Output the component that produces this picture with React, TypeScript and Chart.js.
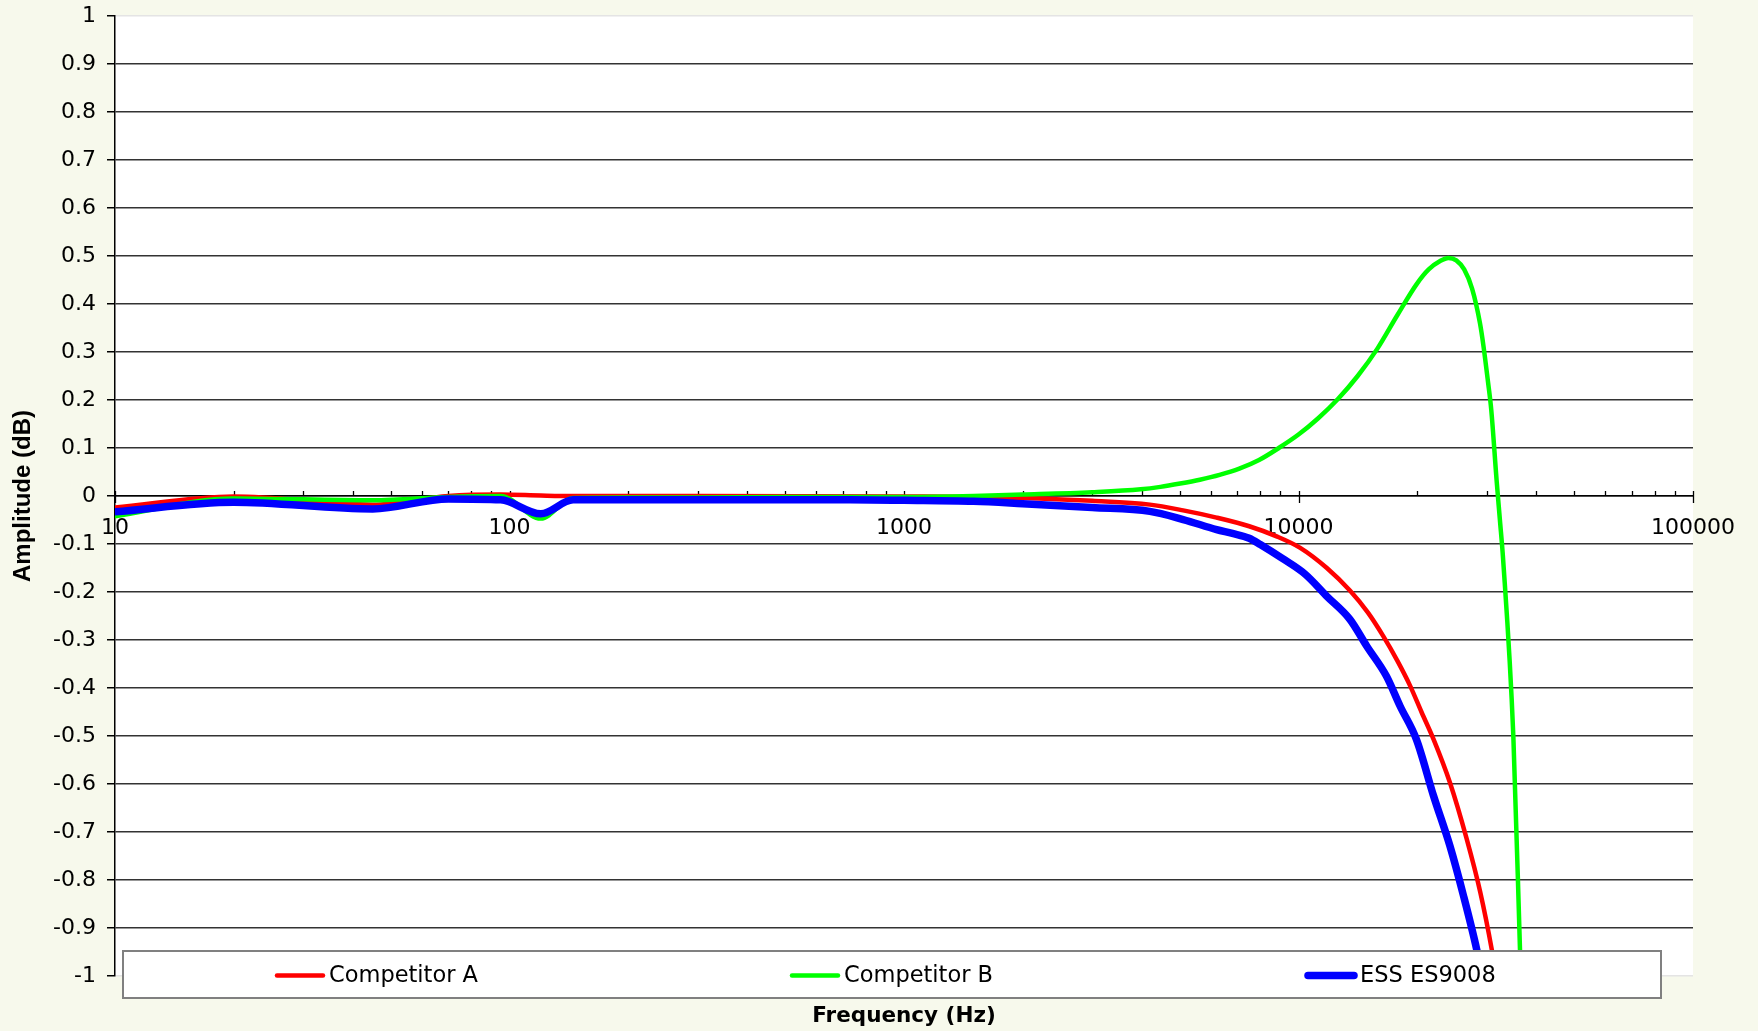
import React, { useEffect, useRef } from "react";
import { Chart, registerables } from "chart.js";

Chart.register(...registerables);

// ---- Data ----
const FREQ_A = [10, 20, 45, 70, 95, 120, 145, 300, 1000, 2000, 3000, 4200, 5100, 6200, 7500, 8800, 10100, 11800, 13500, 15000, 16400, 17800, 19200, 20500, 22000, 24200, 26700, 28900, 30900, 31700, 32500];
const AMP_A = [-0.024, -0.001, -0.018, 0, 0.003, 0.001, 0, 0, -0.001, -0.004, -0.01, -0.018, -0.03, -0.045, -0.063, -0.084, -0.108, -0.15, -0.197, -0.243, -0.292, -0.343, -0.396, -0.45, -0.507, -0.597, -0.715, -0.826, -0.945, -1.0, -1.06];

const FREQ_B = [10, 20, 45, 70, 95, 120, 145, 200, 300, 500, 1000, 1500, 2000, 3000, 3981, 4467, 5012, 5623, 6310, 7079, 7943, 8913, 10000, 11220, 12589, 14125, 15849, 17783, 19953, 21380, 22909, 23988, 25119, 26303, 27542, 28840, 29440, 30200, 30800, 31800, 32400, 33000, 35040, 36430, 36800];
const AMP_B = [-0.042, -0.005, -0.009, -0.002, 0, -0.047, -0.004, -0.003, -0.003, -0.002, -0.002, 0, 0.003, 0.008, 0.014, 0.019, 0.026, 0.034, 0.044, 0.057, 0.075, 0.1, 0.128, 0.162, 0.202, 0.25, 0.307, 0.376, 0.442, 0.472, 0.49, 0.496, 0.491, 0.472, 0.432, 0.36, 0.312, 0.24, 0.18, 0.03, -0.05, -0.13, -0.5, -0.945, -1.06];

const FREQ_ESS = [10, 20, 45, 70, 95, 120, 145, 200, 300, 500, 730, 1000, 1500, 2000, 3000, 4200, 5100, 6200, 6800, 7500, 8000, 9100, 10400, 11800, 13500, 14900, 16700, 18100, 19900, 22000, 24200, 26200, 28300, 29200, 30000];
const AMP_ESS = [-0.033, -0.013, -0.027, -0.006, -0.008, -0.037, -0.008, -0.008, -0.008, -0.008, -0.008, -0.009, -0.011, -0.016, -0.024, -0.032, -0.049, -0.07, -0.078, -0.088, -0.101, -0.13, -0.163, -0.209, -0.257, -0.313, -0.375, -0.438, -0.507, -0.625, -0.729, -0.833, -0.945, -1.0, -1.06];

const SERIES_NAMES = ["Competitor A", "Competitor B", "ESS ES9008"];
const SERIES_COLORS = ["#FF0000", "#00FF00", "#0000FF"];
const SERIES_WIDTHS = [4.5, 4.5, 7.5];

const X_TICKS = [10, 20, 30, 40, 50, 60, 70, 80, 90, 100, 200, 300, 400, 500, 600, 700, 800, 900, 1000, 2000, 3000, 4000, 5000, 6000, 7000, 8000, 9000, 10000, 20000, 30000, 40000, 50000, 60000, 70000, 80000, 90000, 100000];
const X_MAJOR = [10, 100, 1000, 10000, 100000];

const X_TITLE = "Frequency (Hz)";
const Y_TITLE = "Amplitude (dB)";

const BG = "#F7F9EC";

const toPoints = (xs: number[], ys: number[]) => xs.map((x, i) => ({ x, y: ys[i] }));

export default function App() {
  const canvasRef = useRef<HTMLCanvasElement | null>(null);

  useEffect(() => {
    const canvas = canvasRef.current;
    if (!canvas) return;

    const bgPlugin = {
      id: "bgPlugin",
      beforeDraw(chart: any) {
        const { ctx, chartArea } = chart;
        ctx.save();
        ctx.fillStyle = BG;
        ctx.fillRect(0, 0, chart.width, chart.height);
        ctx.fillStyle = "#FFFFFF";
        ctx.fillRect(chartArea.left, chartArea.top, chartArea.right - chartArea.left, chartArea.bottom - chartArea.top);
        ctx.restore();
      },
    };

    const xTickPlugin = {
      id: "xTickPlugin",
      beforeDatasetsDraw(chart: any) {
        const { ctx } = chart;
        const xs = chart.scales.x;
        const ys = chart.scales.y;
        const y0 = ys.getPixelForValue(0);
        ctx.save();
        ctx.strokeStyle = "#000";
        ctx.lineWidth = 1.3;
        X_TICKS.forEach((v) => {
          const px = Math.round(xs.getPixelForValue(v)) + 0.5;
          const major = X_MAJOR.includes(v);
          ctx.beginPath();
          ctx.moveTo(px, y0 - 5);
          ctx.lineTo(px, y0 + (major ? 7 : 0));
          ctx.stroke();
        });
        ctx.restore();
      },
    };

    const overlayPlugin = {
      id: "overlayPlugin",
      afterDraw(chart: any) {
        const { ctx, chartArea } = chart;
        ctx.save();
        // Legend box
        const lx = 123, ly = 951, lw = 1538, lh = 47;
        ctx.fillStyle = "#FFFFFF";
        ctx.fillRect(lx, ly, lw, lh);
        ctx.strokeStyle = "#808080";
        ctx.lineWidth = 2;
        ctx.strokeRect(lx, ly, lw, lh);
        const itemX = [274, 789, 1305];
        const cy = ly + lh / 2 + 1;
        ctx.font = "22.5px 'DejaVu Sans'";
        ctx.textBaseline = "middle";
        ctx.textAlign = "left";
        SERIES_NAMES.forEach((name, i) => {
          ctx.strokeStyle = SERIES_COLORS[i];
          ctx.lineWidth = SERIES_WIDTHS[i];
          ctx.lineCap = "round";
          ctx.beginPath();
          ctx.moveTo(itemX[i] + 3, cy);
          ctx.lineTo(itemX[i] + 49, cy);
          ctx.stroke();
          ctx.fillStyle = "#000";
          ctx.fillText(name, itemX[i] + 55, cy + 1);
        });
        // X title
        ctx.font = "bold 21.5px 'DejaVu Sans'";
        ctx.textAlign = "center";
        ctx.fillStyle = "#000";
        ctx.fillText(X_TITLE, (chartArea.left + chartArea.right) / 2, 1016);
        // Y title
        ctx.translate(23, (chartArea.top + chartArea.bottom) / 2);
        ctx.rotate(-Math.PI / 2);
        ctx.font = "bold 24px 'Liberation Sans'";
        ctx.fillText(Y_TITLE, 0, 0);
        ctx.restore();
      },
    };

    const chart = new Chart(canvas, {
      type: "line",
      data: {
        datasets: [
          { label: SERIES_NAMES[0], data: toPoints(FREQ_A, AMP_A), borderColor: SERIES_COLORS[0], borderWidth: SERIES_WIDTHS[0], order: 3 },
          { label: SERIES_NAMES[1], data: toPoints(FREQ_B, AMP_B), borderColor: SERIES_COLORS[1], borderWidth: SERIES_WIDTHS[1], order: 2 },
          { label: SERIES_NAMES[2], data: toPoints(FREQ_ESS, AMP_ESS), borderColor: SERIES_COLORS[2], borderWidth: SERIES_WIDTHS[2], order: 1 },
        ] as any,
      },
      options: {
        animation: false,
        responsive: false,
        devicePixelRatio: 1,
        layout: { padding: { left: 0, right: 65, top: 16, bottom: 55 } },
        elements: {
          point: { radius: 0, hoverRadius: 0 },
          line: { cubicInterpolationMode: "monotone", fill: false, borderJoinStyle: "round", borderCapStyle: "round" },
        },
        plugins: { legend: { display: false }, tooltip: { enabled: false } },
        scales: {
          x: {
            type: "logarithmic",
            min: 10,
            max: 100000,
            position: { y: 0 } as any,
            afterBuildTicks: (scale: any) => {
              scale.ticks = X_TICKS.map((v) => ({ value: v, major: X_MAJOR.includes(v) }));
            },
            afterFit: (scale: any) => {
              scale.paddingLeft = 0;
              scale.paddingRight = 0;
            },
            grid: { display: false, drawTicks: false },
            border: { display: true, color: "#000", width: 1.5 },
            ticks: {
              autoSkip: false,
              maxRotation: 0,
              padding: 19,
              color: "#000",
              font: { family: "'DejaVu Sans'", size: 22 },
              callback: (v: any) => (X_MAJOR.includes(Number(v)) ? String(v) : ""),
            },
          },
          y: {
            type: "linear",
            min: -1,
            max: 1,
            afterFit: (scale: any) => {
              scale.width = 115;
              scale.paddingTop = 0;
              scale.paddingBottom = 0;
            },
            grid: {
              color: (c: any) => (c.tick && (c.tick.value === 1 || c.tick.value === -1) ? "#E4E4E4" : "#333"),
              lineWidth: 1.5,
              tickColor: "#000",
              tickLength: 8,
              drawTicks: true,
            },
            border: { display: true, color: "#000", width: 1.5 },
            ticks: {
              stepSize: 0.1,
              padding: 11,
              color: "#000",
              font: { family: "'DejaVu Sans'", size: 22 },
              callback: (v: any) => String(Number(Number(v).toFixed(1))),
            },
          },
        },
      } as any,
      plugins: [bgPlugin, xTickPlugin, overlayPlugin],
    });

    return () => chart.destroy();
  }, []);

  return (
    <div style={{ position: "fixed", left: 0, top: 0, width: 1758, height: 1031, background: BG }}>
      <canvas ref={canvasRef} width={1758} height={1031} style={{ display: "block" }} />
    </div>
  );
}
